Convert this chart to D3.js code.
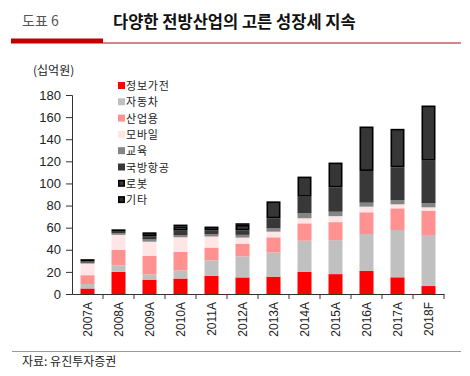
<!DOCTYPE html>
<html><head><meta charset="utf-8">
<script src="https://cdn.jsdelivr.net/npm/d3@7"></script>
<style>
body{margin:0;background:#fff;}
svg{display:block;}
text{font-family:"Liberation Sans",Arial,sans-serif;}
.kr{font-family:"Noto Sans CJK KR","Noto Sans",sans-serif;}
</style></head>
<body>
<svg id="c" width="470" height="376"></svg>
<script>
const categories = ['2007A','2008A','2009A','2010A','2011A','2012A','2013A','2014A','2015A','2016A','2017A','2018F'];
const seriesNames = ['정보가전','자동차','산업용','모바일','교육','국방항공','로봇','기타'];
const s정보가전 = [5, 20, 13, 14, 16.5, 15, 15.7, 20.2, 18, 20.8, 15.1, 7.2];
const s자동차 = [4, 6, 4.8, 7.5, 14, 19, 21.7, 28, 30.7, 33.5, 42.8, 46.2];
const s산업용 = [8, 14, 16.8, 16.5, 11.5, 11.5, 13.9, 15.7, 16.3, 19.6, 19.6, 22];
const s모바일 = [10.5, 13.5, 12.7, 13.3, 10, 5.5, 5.1, 4.6, 5.4, 5.1, 3.6, 3];
const s교육 = [0.8, 1.5, 2, 2, 2, 2.5, 3, 4.5, 4, 3.6, 3.9, 3.6];
const s국방항공 = [1.2, 2, 3, 4, 3.5, 4, 9, 15, 22, 28.7, 29.6, 38.6];
const s로봇 = [2, 1.5, 3.5, 4, 3.5, 5, 15.4, 18.2, 22.5, 40.2, 34.8, 49.9];
const s기타 = [0.8, 1, 1.2, 1.5, 1, 1.5, 0.5, 0.5, 0.5, 0.5, 0.5, 0.5];
const yTicks = [0,20,40,60,80,100,120,140,160,180];

const seriesValues = [s정보가전,s자동차,s산업용,s모바일,s교육,s국방항공,s로봇,s기타];
const fills = ['#ff0000','#c0c0c0','#ff9191','#ffe6e6','#858585','#383838','#363636','#2a2a2a'];
const strokes = [null,null,null,null,null,null,'#000','#000'];

const svg = d3.select('#c');

// Header
svg.append('text').attr('class','kr').attr('x',22).attr('y',26).attr('font-size',14).attr('fill','#555').text('도표 6');
svg.append('text').attr('class','kr').attr('x',113).attr('y',28).attr('font-size',16.5).attr('font-weight','bold').attr('fill','#111').text('다양한 전방산업의 고른 성장세 지속');
svg.append('rect').attr('x',11).attr('y',38.5).attr('width',92).attr('height',5).attr('fill','#c00000');
svg.append('rect').attr('x',103).attr('y',42.5).attr('width',358).attr('height',1).attr('fill','#a01010');

// Footer
svg.append('rect').attr('x',12).attr('y',351).attr('width',449).attr('height',1).attr('fill','#9a9a9a');
svg.append('text').attr('class','kr').attr('x',22).attr('y',366).attr('font-size',12).attr('fill','#222').text('자료: 유진투자증권');

// unit
svg.append('text').attr('class','kr').attr('x',33).attr('y',75).attr('font-size',12).attr('fill','#222').text('(십억원)');

const x = d3.scaleBand().domain(categories).range([72,444]).padding(0);
const y = d3.scaleLinear().domain([0,180]).range([294,95]);
const barW = 14;

// stack
const table = categories.map((c,i)=>{const o={cat:c}; seriesNames.forEach((n,k)=>o[n]=seriesValues[k][i]); return o;});
const stack = d3.stack().keys(seriesNames)(table);

stack.forEach((layer,k)=>{
  const sw = strokes[k] ? 1.6 : 0;
  svg.append('g').selectAll('rect').data(layer).join('rect')
    .attr('x',d=>x(d.data.cat)+x.bandwidth()/2-barW/2+sw/2)
    .attr('width',barW-sw)
    .attr('y',d=>y(d[1])+sw/2)
    .attr('height',d=>Math.max(0,y(d[0])-y(d[1])-sw))
    .attr('fill',fills[k])
    .attr('stroke',strokes[k]||'none')
    .attr('stroke-width',sw);
});

// axes
const yAxis = d3.axisLeft(y).tickValues(yTicks).tickSize(6).tickPadding(5);
const gy = svg.append('g').attr('transform','translate(72,0)').call(yAxis);
gy.select('.domain').attr('stroke','#333');
gy.selectAll('.tick line').attr('stroke','#333');
gy.selectAll('.tick text').attr('font-size',13).attr('fill','#222').attr('font-family','"Liberation Sans",Arial,sans-serif');

const xAxis = d3.axisBottom(x).tickSize(0).tickPadding(0);
const gx = svg.append('g').attr('transform','translate(0,294)').call(xAxis);
gx.select('.domain').attr('stroke','#333');
gx.selectAll('.tick text').attr('font-size',12).attr('fill','#222')
  .attr('font-family','"Liberation Sans",Arial,sans-serif')
  .attr('text-anchor','end').attr('dy','0.35em')
  .attr('transform','translate(0,8) rotate(-90)').attr('x',0).attr('y',0);
// band boundary ticks
svg.append('g').selectAll('line').data(categories).join('line')
  .attr('x1',(d,i)=>x.range()[0]+x.bandwidth()*(i+1)).attr('x2',(d,i)=>x.range()[0]+x.bandwidth()*(i+1))
  .attr('y1',294).attr('y2',299).attr('stroke','#333');

// legend
const lg = svg.append('g');
seriesNames.forEach((n,k)=>{
  const ly = 86 + k*16.3;
  const sw = strokes[k] ? 1.5 : 0;
  lg.append('rect').attr('x',118+sw/2).attr('y',ly-4+sw/2).attr('width',7-sw).attr('height',7-sw)
    .attr('fill',fills[k]).attr('stroke',strokes[k]||'none').attr('stroke-width',sw);
  lg.append('text').attr('class','kr').attr('x',126).attr('y',ly+4).attr('font-size',11).attr('letter-spacing',0.8).attr('fill','#222').text(n);
});
</script>
</body></html>
